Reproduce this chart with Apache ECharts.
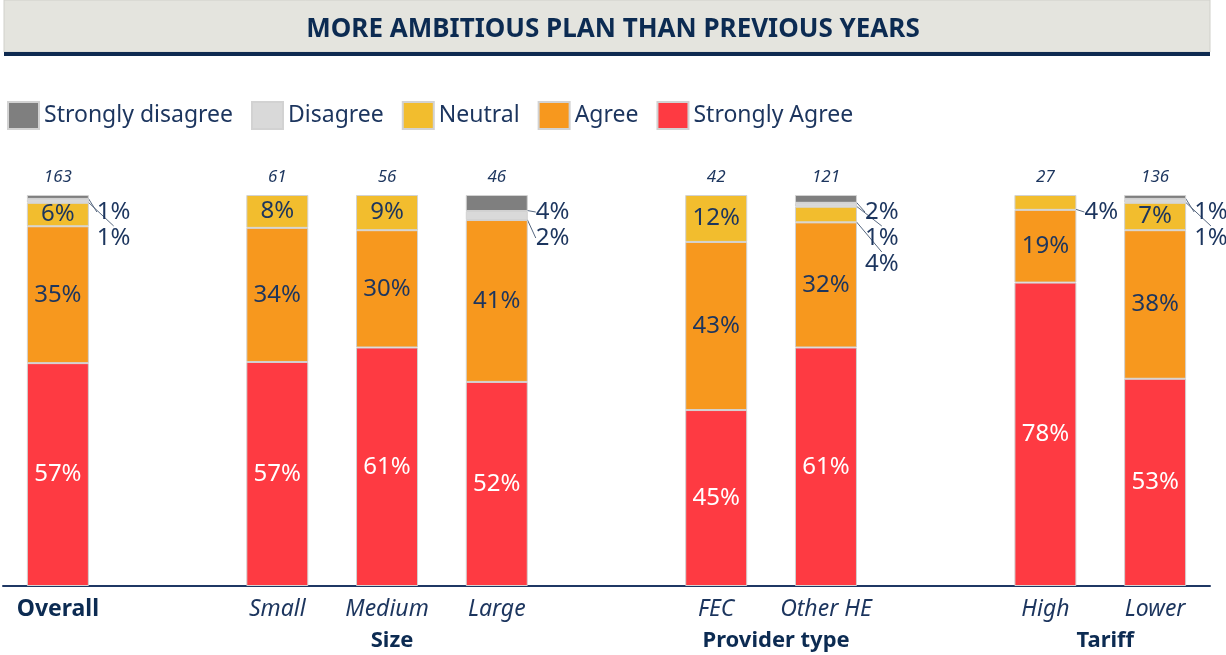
<!DOCTYPE html>
<html>
<head>
<meta charset="utf-8">
<script src="https://cdn.jsdelivr.net/npm/echarts@6/dist/echarts.min.js"></script>
<style>
  html, body { margin: 0; padding: 0; background: #fff; }
  #chart { width: 1226px; height: 655px; }
</style>
</head>
<body>
<div id="chart"></div>
<script>
// categories (blank slots make the gaps between groups)
const categories = ['Overall', ' ', 'Small', 'Medium', 'Large', '  ', 'FEC', 'Other HE', '   ', 'High', 'Lower'];
const respondents = ['163', '', '61', '56', '46', '', '42', '121', '', '27', '136'];
const stronglyAgree = [57, null, 57.3, 61, 52.2, null, 45, 61, null, 77.6, 53];
const agree = [35, null, 34.3, 30, 41.4, null, 43, 32, null, 18.6, 38];
const neutral = [6, null, 8.4, 9, 0, null, 12, 4, null, 3.8, 7];
const disagree = [1, null, 0, 0, 2.3, null, 0, 1, null, 0, 1];
const stronglyDisagree = [1, null, 0, 0, 4.1, null, 0, 2, null, 0, 1];
const groups = [['Size', 'Small', 'Large'], ['Provider type', 'FEC', 'Other HE'], ['Tariff', 'High', 'Lower']];

const navy = '#1c355e';
const font = 'Noto Sans';

let Chart = {
    init() {
        this.chart = echarts.init(document.getElementById('chart'));
        // top to bottom order of the stack, used to place small labels outside
        this.topDown = [stronglyDisagree, disagree, neutral];
        this.draw();
        this.groupLabels();
    },
    isSmall(v) {
        return v != null && v > 0 && v < 5;
    },
    // index of a small segment among the outside labels of its bar
    outsideRank(values, i) {
        let k = 0;
        for (let s of this.topDown) {
            if (s === values) return k;
            if (this.isSmall(s[i])) k++;
        }
        return k;
    },
    layout(values) {
        return params => {
            let v = values[params.dataIndex];
            if (!this.isSmall(v)) return {};
            let top = this.chart.convertToPixel({ gridIndex: 0 }, [0, 100])[1];
            let k = this.outsideRank(values, params.dataIndex);
            return {
                x: params.rect.x + params.rect.width + 8,
                y: top + 17 + 26 * k,
                align: 'left',
                verticalAlign: 'middle'
            };
        };
    },
    seri(name, values, color, labelColor) {
        return {
            name: name,
            type: 'bar',
            stack: 'all',
            barWidth: 62,
            itemStyle: { color: color, borderColor: '#d2d2d2', borderWidth: 1 },
            label: {
                show: true,
                position: 'inside',
                color: labelColor,
                fontFamily: font,
                fontSize: 24,
                formatter: p => Math.round(p.value) + '%'
            },
            labelLayout: this.layout(values),
            data: values.map(v => {
                if (v == null || v === 0) return '-';
                if (this.isSmall(v)) {
                    return {
                        value: v,
                        label: { position: 'right', color: navy },
                        labelLine: { show: true, lineStyle: { color: '#56677f', width: 1 } }
                    };
                }
                return v;
            })
        };
    },
    draw() {
        this.chart.setOption({
            animation: false,
            title: {
                text: 'MORE AMBITIOUS PLAN THAN PREVIOUS YEARS',
                left: 'center',
                top: 12,
                textStyle: { color: '#0c2b52', fontFamily: font, fontWeight: 'bold', fontSize: 26 }
            },
            graphic: [
                { id: 'box', type: 'rect', z: -1, shape: { x: 4, y: 0, width: 1206, height: 52 },
                  style: { fill: '#e4e4de', stroke: '#d0d0ca' } },
                { id: 'rule', type: 'rect', z: -1, shape: { x: 4, y: 52, width: 1206, height: 4 },
                  style: { fill: '#0e2a50' } }
            ],
            legend: {
                left: 2,
                top: 96,
                itemWidth: 31,
                itemHeight: 27,
                itemGap: 18,
                icon: 'rect',
                data: ['Strongly disagree', 'Disagree', 'Neutral', 'Agree', 'Strongly Agree'],
                textStyle: { color: navy, fontFamily: font, fontSize: 23 }
            },
            grid: { left: 3, right: 16, top: 195, bottom: 69 },
            xAxis: [{
                type: 'category',
                data: categories,
                axisLine: { lineStyle: { color: '#1f3864', width: 2 } },
                axisTick: { show: false },
                axisLabel: {
                    interval: 0,
                    margin: 12,
                    color: navy,
                    fontFamily: font,
                    fontSize: 23,
                    formatter: (v, i) => i === 0 ? '{b|' + v + '}' : '{i|' + v + '}',
                    rich: {
                        b: { fontWeight: 'bold', fontSize: 23, color: '#0c2b52', fontFamily: font },
                        i: { fontStyle: 'italic', fontSize: 23, color: navy, fontFamily: font }
                    }
                }
            }, {
                type: 'category',
                position: 'top',
                data: respondents,
                axisLine: { show: false },
                axisTick: { show: false },
                axisLabel: { interval: 0, margin: 9, color: navy, fontFamily: font, fontStyle: 'italic', fontSize: 17 }
            }],
            yAxis: { type: 'value', min: 0, max: 100, show: false },
            series: [
                this.seri('Strongly Agree', stronglyAgree, '#fe3a42', '#ffffff'),
                this.seri('Agree', agree, '#f7981e', navy),
                this.seri('Neutral', neutral, '#f2bd2e', navy),
                this.seri('Disagree', disagree, '#d9d9d9', navy),
                this.seri('Strongly disagree', stronglyDisagree, '#7f7f7f', navy)
            ]
        });
    },
    groupLabels() {
        let y = this.chart.convertToPixel({ gridIndex: 0 }, [0, 0])[1];
        this.chart.setOption({
            graphic: groups.map((g, i) => {
                let a = this.chart.convertToPixel({ xAxisIndex: 0 }, g[1]);
                let b = this.chart.convertToPixel({ xAxisIndex: 0 }, g[2]);
                return {
                    id: 'group' + i,
                    type: 'text',
                    x: (a + b) / 2 + 5,
                    y: y + 55,
                    style: {
                        text: g[0],
                        align: 'center',
                        verticalAlign: 'middle',
                        fill: '#0c2b52',
                        font: 'bold 22px "Noto Sans"'
                    }
                };
            })
        });
    }
};
Chart.init();
</script>
</body>
</html>
